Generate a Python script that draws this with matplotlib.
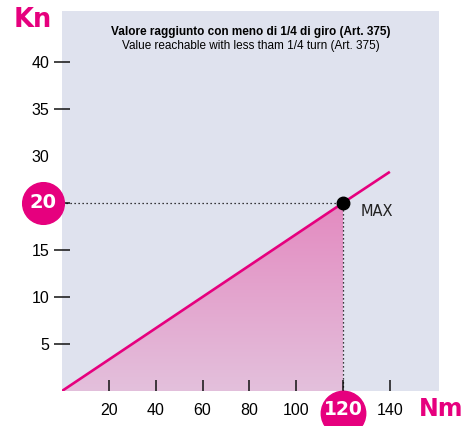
import numpy as np
import matplotlib
matplotlib.use("Agg")
import matplotlib.pyplot as plt
from matplotlib.colors import LinearSegmentedColormap
from matplotlib.patches import Polygon

# torque (Nm) vs clamping force (Kn)
torque_nm = [0, 120, 140]
force_kn = [0, 20, 23.3]
max_torque = 120
max_force = 20

xtick_pos = [20, 40, 60, 80, 100, 120, 140]
xtick_labels = ["20", "40", "60", "80", "100", "", "140"]
ytick_pos = [5, 10, 15, 20, 25, 30, 35]
ytick_labels = ["5", "10", "15", "", "30", "35", "40"]

title_it = "Valore raggiunto con meno di 1/4 di giro (Art. 375)"
title_en = "Value reachable with less tham 1/4 turn (Art. 375)"

MAGENTA = "#e6007e"
BG = "#dfe2ee"
narrow = ["Liberation Sans Narrow", "Liberation Sans", "DejaVu Sans"]

fig = plt.figure(figsize=(4.67, 4.26), dpi=100)
ax = fig.add_axes([0.1328, 0.0822, 0.8073, 0.8920])
ax.set_facecolor(BG)
for s in ax.spines.values():
    s.set_visible(False)

ax.set_xlim(0, 161)
ax.set_ylim(0, 40.4)

# shaded area under the line up to the max point, vertical gradient
tri = Polygon([(torque_nm[0], force_kn[0]), (torque_nm[1], force_kn[1]),
               (torque_nm[1], 0)], closed=True, facecolor="none",
              edgecolor="none")
ax.add_patch(tri)
cmap = LinearSegmentedColormap.from_list("fill", ["#e3c0dc", "#e48ac0"])
grad = np.linspace(0, 1, 256).reshape(-1, 1)
im = ax.imshow(grad, cmap=cmap, origin="lower", aspect="auto",
               extent=[0, max_torque, 0, max_force], zorder=1)
im.set_clip_path(tri)

ax.plot(torque_nm, force_kn, color=MAGENTA, lw=1.9, zorder=3,
        solid_capstyle="butt")

# dotted guides to the max point
ax.plot([0, max_torque], [max_force, max_force], color="black", lw=0.9,
        ls=(0, (1, 2.2)), zorder=2)
ax.plot([max_torque, max_torque], [0, max_force], color="black", lw=0.9,
        ls=(0, (1, 2.2)), zorder=2)
ax.plot([max_torque], [max_force], "o", color="black", ms=9, zorder=4)
ax.annotate("MAX", xy=(max_torque, max_force), xytext=(13, -6),
            textcoords="offset points", ha="left", va="center",
            fontsize=10.5, color="#222222")

ax.set_xticks(xtick_pos)
ax.set_xticklabels(xtick_labels, family=narrow, fontsize=11.5)
ax.set_yticks(ytick_pos)
ax.set_yticklabels(ytick_labels, family=narrow, fontsize=11.5)
ax.tick_params(axis="x", direction="in", length=8, width=1.1, pad=9,
               color="#111111")
ax.tick_params(axis="y", direction="inout", length=11, width=1.1, pad=3.5,
               color="#111111")
# the "30" label carries no tick mark
ax.yaxis.get_major_ticks()[4].tick1line.set_visible(False)

# value badges on the axes
ax.plot([-0.05], [max_force], "o", color=MAGENTA, ms=30, clip_on=False,
        transform=ax.get_yaxis_transform(), zorder=6)
ax.text(-0.05, max_force, str(max_force), transform=ax.get_yaxis_transform(),
        ha="center", va="center", color="white", fontsize=14,
        fontweight="bold", zorder=7)
ax.plot([max_torque], [-0.058], "o", color=MAGENTA, ms=32, clip_on=False,
        transform=ax.get_xaxis_transform(), zorder=6)
ax.text(max_torque, -0.05, str(max_torque), transform=ax.get_xaxis_transform(),
        ha="center", va="center", color="white", fontsize=13.5,
        fontweight="bold", zorder=7)

ax.text(0.5, 0.945, title_it, transform=ax.transAxes, ha="center",
        va="center", fontsize=8.5, fontweight="bold", family=narrow)
ax.text(0.5, 0.908, title_en, transform=ax.transAxes, ha="center",
        va="center", fontsize=8.5, family=narrow)

fig.text(14 / 467, 1 - 27 / 426, "Kn", color=MAGENTA, fontsize=18.5,
         fontweight="bold", va="baseline", ha="left")
fig.text(419 / 467, 1 - 416 / 426, "Nm", color=MAGENTA, fontsize=17,
         fontweight="bold", va="baseline", ha="left")

fig.savefig("out.png", dpi=100)
